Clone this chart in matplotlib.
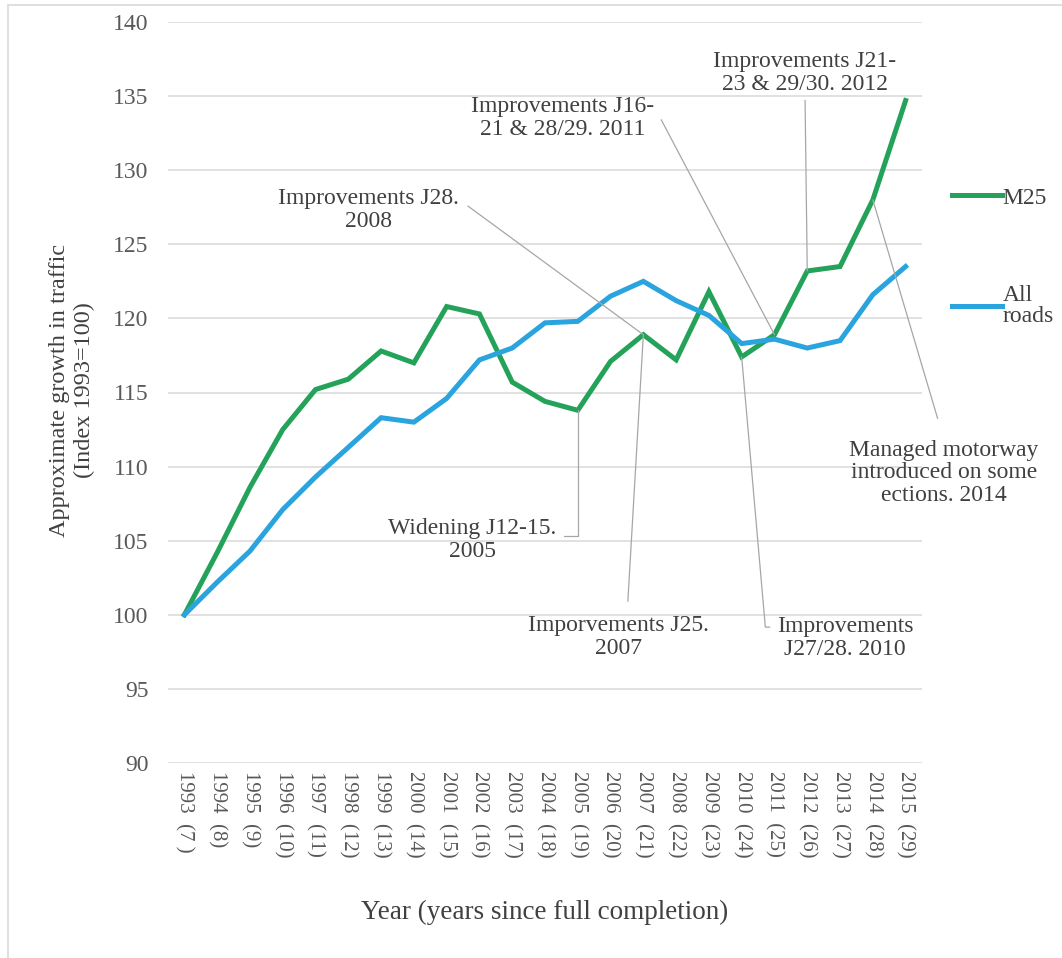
import matplotlib.pyplot as plt
from matplotlib.patches import Rectangle

years = ['1993', '1994', '1995', '1996', '1997', '1998', '1999', '2000', '2001', '2002', '2003', '2004',
         '2005', '2006', '2007', '2008', '2009', '2010', '2011', '2012', '2013', '2014', '2015']
since = ['7 ', '8', '9', '10', '11', '12', '13', '14', '15', '16', '17', '18',
         '19', '20', '21', '22', '23', '24', '25', '26', '27', '28', '29']

m25 = [100.0, 104.2, 108.6, 112.5, 115.2, 115.9, 117.8, 117.0, 120.8, 120.3, 115.7, 114.4,
       113.8, 117.1, 118.9, 117.2, 121.8, 117.4, 118.9, 123.2, 123.5, 128.0, 134.7]
all_roads = [100.0, 102.2, 104.3, 107.1, 109.3, 111.3, 113.3, 113.0, 114.6, 117.2, 118.0, 119.7,
             119.8, 121.5, 122.5, 121.2, 120.2, 118.3, 118.6, 118.0, 118.5, 121.6, 123.5]

# annotation text, year it points at (on the M25 line)
notes = [
    ('Improvements J28.\n2008', '2007'),
    ('Widening J12-15.\n2005', '2005'),
    ('Imporvements J25.\n2007', '2007'),
    ('Improvements\nJ27/28. 2010', '2010'),
    ('Improvements J16-\n21 & 28/29. 2011', '2011'),
    ('Improvements J21-\n23 & 29/30. 2012', '2012'),
    ('Managed motorway\nintroduced on some\nections. 2014', '2014'),
]

GREEN = '#24a259'
BLUE = '#2aa4de'
TXT = '#404040'
plt.rcParams['font.family'] = 'Liberation Serif'

W, H = 1062, 958
fig = plt.figure(figsize=(W / 100, H / 100), dpi=100)
ax = fig.add_axes([168 / W, 1 - 763 / H, 754 / W, 741 / H])

x = list(range(len(years)))
ax.plot(x, m25, color=GREEN, lw=3.6, label='M25', solid_joinstyle='miter', zorder=3)
ax.plot(x, all_roads, color=BLUE, lw=3.6, label='All\nroads', solid_joinstyle='miter', zorder=3)

ax.set_xlim(-0.5, len(years) - 0.5)
ax.set_ylim(90, 140)
ax.set_yticks(range(90, 141, 5))
ax.grid(axis='y', color='#d9d9d9', lw=1.1)
ax.set_axisbelow(True)
for s in ax.spines.values():
    s.set_visible(False)

ax.set_xticks(x)
ax.set_xticklabels([f'{y}  ({s})' for y, s in zip(years, since)], rotation=-90,
                   va='top', ha='center', fontsize=15, color='#595959')
ax.tick_params(axis='x', length=0, pad=6)
ax.tick_params(axis='y', length=0, pad=14, labelsize=17, labelcolor='#595959')

fig.text(545 / W, 1 - 912 / H, 'Year (years since full completion)', ha='center', va='center',
         fontsize=19.5, color=TXT)
fig.text(72 / W, 1 - 390 / H, 'Approximate growth in traffic\n(Index 1993=100)', rotation=90,
         ha='center', va='center', multialignment='center', fontsize=17.5, color=TXT,
         linespacing=1.2)

# text positions in figure pixels (from top-left) and where the leader leaves the text box
text_pos = [(368, 210), (472, 540), (618, 637), (845, 638), (563, 118), (805, 73), (944, 473)]
rel = [(1.0, 0.75), (1.0, 0.6), (0.55, 1.0), (0.0, 0.75), (1.0, 0.75), (0.5, 0.0), (0.5, 1.0)]
shrink = [6, 4, 8, 3, 6, 2, 14]
conn = ['arc3', 'angle,angleA=0,angleB=90,rad=0', 'arc3', 'angle,angleA=0,angleB=95,rad=0',
        'arc3', 'arc3', 'arc3']
for (label, yr), (px, py), rp, sa, cs in zip(notes, text_pos, rel, shrink, conn):
    i = years.index(yr)
    ax.annotate(label, xy=(i, m25[i]), xycoords='data',
                xytext=(px, H - py), textcoords='figure pixels',
                ha='center', va='center', multialignment='center',
                fontsize=17, color=TXT, linespacing=1.1,
                arrowprops=dict(arrowstyle='-', color='#a6a6a6', lw=0.9,
                                shrinkA=sa, shrinkB=0, relpos=rp, connectionstyle=cs),
                annotation_clip=False, zorder=4)

leg = ax.legend(loc='upper left', bbox_to_anchor=(952 / W, 1 - 187 / H),
                bbox_transform=fig.transFigure, frameon=False, fontsize=17,
                handlelength=2.1, handletextpad=0.05, borderpad=0, borderaxespad=0,
                labelspacing=3.25)
for t in leg.get_texts():
    t.set_color(TXT)
    t.set_linespacing(1.0)

fig.add_artist(Rectangle((8 / W, -0.05), 1.1, 1.05 - 5 / H, transform=fig.transFigure,
                         fill=False, edgecolor='#d9d9d9', lw=1.2))

fig.savefig('out.png', dpi=100)
